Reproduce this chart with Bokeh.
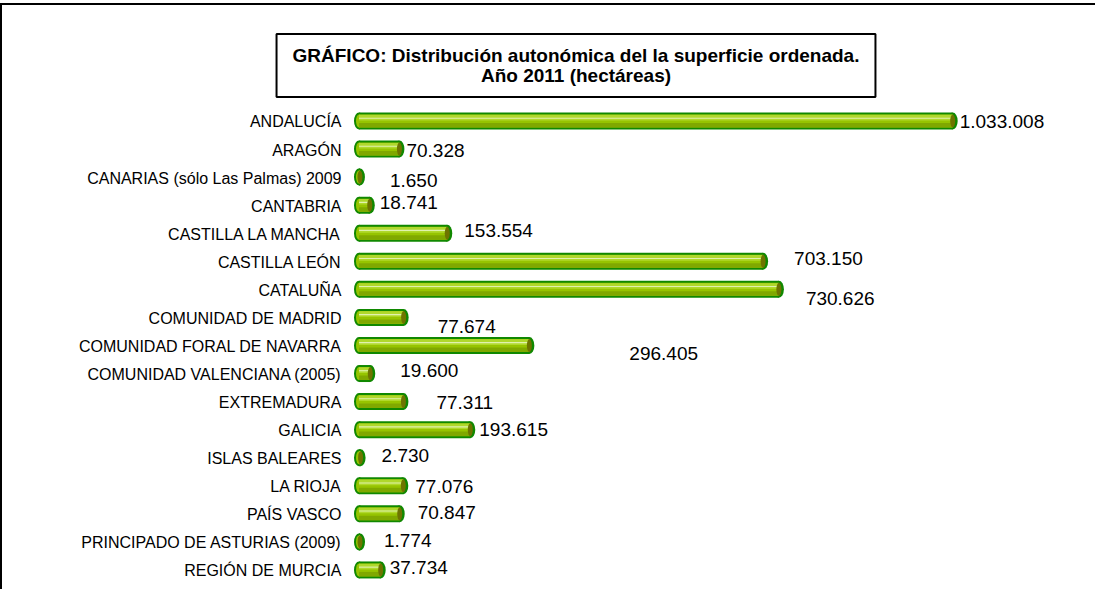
from bokeh.plotting import figure
from bokeh.models import Range1d, ColumnDataSource, Label
from bokeh.transform import dodge
from bokeh.core.properties import value
from bokeh.embed import file_html
from bokeh.resources import INLINE

# ---- data ----
categories = [
    "ANDALUCÍA", "ARAGÓN", "CANARIAS (sólo Las Palmas) 2009", "CANTABRIA",
    "CASTILLA LA MANCHA", "CASTILLA LEÓN", "CATALUÑA", "COMUNIDAD DE MADRID",
    "COMUNIDAD FORAL DE NAVARRA", "COMUNIDAD VALENCIANA (2005)", "EXTREMADURA",
    "GALICIA", "ISLAS BALEARES", "LA RIOJA", "PAÍS VASCO",
    "PRINCIPADO DE ASTURIAS (2009)", "REGIÓN DE MURCIA",
]
hectareas = [1033008, 70328, 1650, 18741, 153554, 703150, 730626, 77674,
             296405, 19600, 77311, 193615, 2730, 77076, 70847, 1774, 37734]
title_text = ("GRÁFICO: Distribución autonómica del la superficie ordenada.\n"
              "Año 2011 (hectáreas)")

# ---- style: data-label placement (pixel offsets from bar end, as in original) ----
label_dx = [7, 7, 30, 10, 17, 31, 27, 34, 100, 30, 33, 9, 21, 12, 18, 24, 9]
label_dy = [1, 1, 3, -3, -3, -3, 9, 9, 8, -3, 1, 0, -2, 1, -1, -1, -2]

value_labels = [f"{v:,}".replace(",", ".") for v in hectareas]
rows = list(range(len(categories)))  # row index, top to bottom
src = ColumnDataSource(dict(cat=categories, row=rows, v=hectareas, lab=value_labels,
                            dx=label_dx, dy=label_dy, zero=[0] * len(hectareas)))

FONT = "Liberation Sans"
OUTLINE = "#108800"
BODY = "#96C400"
LIGHT = "#B0D82C"
HIGHLIGHT = "#E0F2AE"
DARK = "#80A800"
CAP = "#6E7400"

p = figure(width=1095, height=586,
           x_range=Range1d(-620300, 1285000),
           y_range=Range1d(16.768, -4.116),        # flipped: first row on top
           x_axis_location=None, y_axis_location=None,
           output_backend="svg", toolbar_location=None,
           min_border=0)
p.styles = {"border-left": "2px solid black", "border-top": "2px solid black",
            "margin-top": "3px"}
p.background_fill_color = "white"
p.border_fill_color = "white"
p.outline_line_color = None
p.grid.visible = False

H_OUT = 0.606
H_IN = 0.463

# category labels (axis)
p.text(x="zero", y="row", text="cat", x_offset=-17.5, y_offset=1, source=src,
       text_font=value(FONT), text_font_size="16px", text_color="#000000",
       text_align="right", text_baseline="middle")

# outline layer
p.hbar(y="row", left="zero", right="v", height=H_OUT, source=src,
       fill_color=OUTLINE, line_color=None)
p.ellipse(x="zero", y="row", width=10, height=17, width_units="screen",
          height_units="screen", source=src, fill_color=OUTLINE, line_color=None)
p.ellipse(x="v", y="row", width=10, height=17, width_units="screen",
          height_units="screen", source=src, fill_color=OUTLINE, line_color=None)

# body
p.ellipse(x="zero", y="row", width=6, height=13, width_units="screen",
          height_units="screen", source=src, fill_color=BODY, line_color=None)
p.hbar(y="row", left="zero", right="v", height=H_IN, source=src,
       fill_color=BODY, line_color=None)
p.hbar(y=dodge("row", -0.12), left="zero", right="v", height=0.2,
       source=src, fill_color=LIGHT, line_color=None)
p.hbar(y=dodge("row", -0.10), left="zero", right="v", height=0.04,
       source=src, fill_color=HIGHLIGHT, line_color=None)
p.hbar(y=dodge("row", 0.15), left="zero", right="v", height=0.16,
       source=src, fill_color=DARK, line_color=None)

# end cap
p.ellipse(x="v", y="row", width=5, height=13, width_units="screen",
          height_units="screen", source=src, fill_color=CAP, line_color=None)

# value labels
p.text(x="v", y="row", text="lab", x_offset="dx", y_offset="dy", source=src,
       text_font=value(FONT), text_font_size="19px", text_color="#000000",
       text_align="left", text_baseline="middle")

# title box  (padding given as (horizontal, vertical))
title = Label(x=573.5, y=526, x_units="screen", y_units="screen",
              text=title_text, text_align="center", text_baseline="middle",
              text_font=FONT, text_font_size="19px", text_font_style="bold",
              text_color="#000000", text_line_height=0.95,
              background_fill_color="white", border_line_color="black",
              border_line_width=2, padding=(16, 11))
p.add_layout(title)

open("out.html", "w").write(file_html(p, INLINE))
